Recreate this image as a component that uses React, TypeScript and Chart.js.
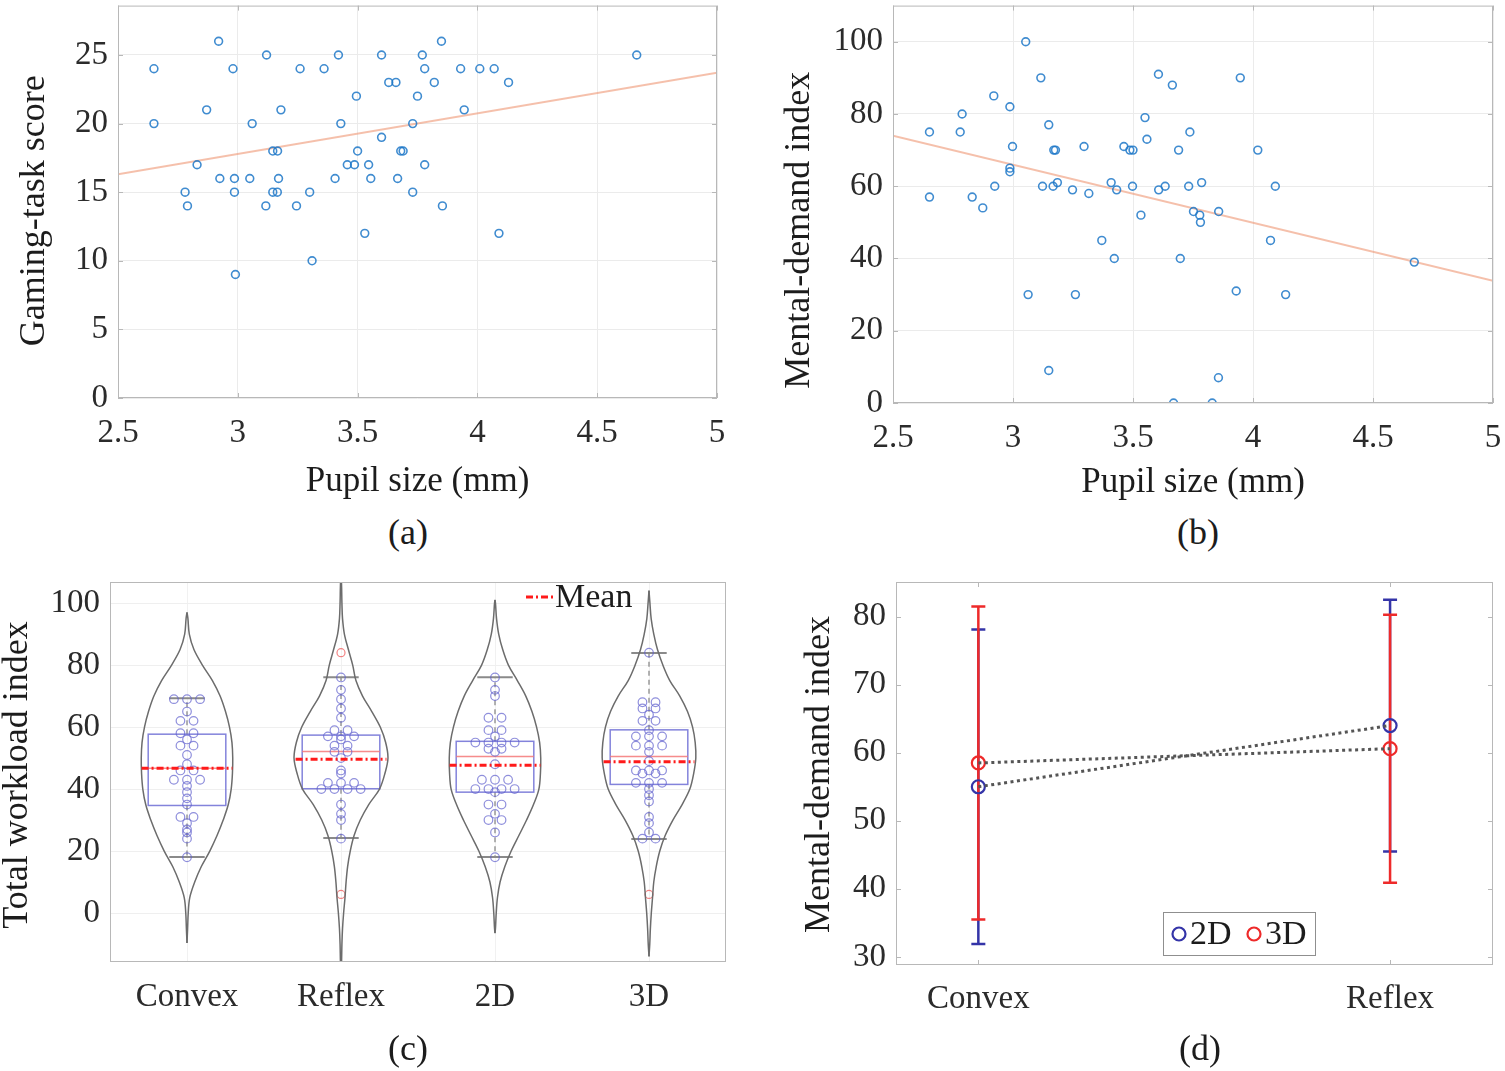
import React, { useEffect, useRef } from 'react';
import { Chart, registerables } from 'chart.js';
Chart.register(...registerables);

const SERIF = "'Liberation Serif', 'Times New Roman', serif";
const TICK_COLOR = '#2b2b2b';
const TITLE_COLOR = '#1c1c1c';
const GRID = '#ebebeb';

// ---------- Panel (a) ----------
const PUPIL_A = [2.65, 2.65, 2.92, 3.12, 2.98, 3.26, 3.36, 3.42, 3.60, 3.77, 3.85, 3.78, 3.93, 4.01, 4.07, 4.13, 4.665, 3.63, 3.66, 3.82, 3.495, 3.75, 2.87, 3.18, 3.945, 3.06, 3.43, 3.73, 3.60, 3.146, 3.166, 3.50, 3.68, 3.69, 2.83, 3.457, 3.487, 3.546, 3.78, 2.925, 2.986, 3.05, 3.17, 3.406, 3.555, 3.667, 2.78, 2.986, 3.146, 3.165, 3.30, 3.73, 2.79, 3.117, 3.245, 3.854, 3.53, 4.09, 3.31, 2.99];
const SCORE_A = [24, 20, 26, 25, 24, 24, 24, 25, 25, 25, 26, 24, 24, 24, 24, 23, 25, 23, 23, 23, 22, 22, 21, 21, 21, 20, 20, 20, 19, 18, 18, 18, 18, 18, 17, 17, 17, 17, 17, 16, 16, 16, 16, 16, 16, 16, 15, 15, 15, 15, 15, 15, 14, 14, 14, 14, 12, 12, 10, 9];
const FIT_A_X = [2.5, 5];
const FIT_A_Y = [16.3, 23.7];
const PUPIL_TICKS = [2.5, 3, 3.5, 4, 4.5, 5];
const SCORE_TICKS = [0, 5, 10, 15, 20, 25];

// ---------- Panel (b) ----------
const PUPIL_B = [3.053, 3.116, 3.606, 3.664, 3.947, 2.92, 2.987, 2.788, 3.55, 2.652, 2.78, 3.149, 3.737, 3.558, 2.998, 3.296, 3.462, 3.17, 3.177, 3.487, 3.50, 3.69, 4.02, 2.987, 2.987, 2.924, 3.123, 3.167, 3.185, 3.409, 3.498, 3.634, 3.732, 3.786, 4.093, 3.248, 3.316, 3.432, 3.607, 2.652, 2.83, 2.874, 3.533, 3.752, 3.778, 3.781, 3.857, 3.37, 4.073, 3.422, 3.697, 4.672, 3.063, 3.26, 3.93, 4.136, 3.149, 3.856, 3.669, 3.83];
const MD_B = [100, 90, 91, 88, 90, 85, 82, 80, 79, 75, 75, 77, 75, 73, 71, 71, 71, 70, 70, 70, 70, 70, 70, 65, 64, 60, 60, 60, 61, 61, 60, 60, 60, 61, 60, 59, 58, 59, 59, 57, 57, 54, 52, 53, 52, 50, 53, 45, 45, 40, 40, 39, 30, 30, 31, 30, 9, 7, 0, 0];
const FIT_B_X = [2.5, 5];
const FIT_B_Y = [74, 33.8];
const MD_TICKS = [0, 20, 40, 60, 80, 100];

// ---------- Panel (c) ----------
const GROUPS = ['Convex', 'Reflex', '2D', '3D'];
const WORKLOAD_TICKS = [0, 20, 40, 60, 80, 100];
const CONVEX_PTS = [69, 69, 69, 65, 62, 62, 58, 58, 56, 54, 54, 51, 48, 46, 46, 43, 43, 43, 41, 39, 37, 35, 31, 31, 29, 27, 26, 24, 18];
const REFLEX_PTS = [76, 72, 69, 66, 63, 59, 59, 57, 57, 57, 56, 54, 54, 52, 52, 50, 46, 45, 42, 42, 42, 40, 40, 40, 40, 35, 32, 30, 24];
const TWO_D_PTS = [76, 72, 70, 63, 63, 59, 59, 57, 55, 55, 55, 55, 53, 53, 52, 48, 43, 43, 43, 40, 40, 40, 40, 39, 35, 35, 32, 30, 30, 26, 18];
const THREE_D_PTS = [84, 68, 68, 66, 66, 64, 62, 62, 59, 57, 57, 57, 54, 54, 54, 52, 49, 46, 46, 46, 45, 45, 42, 42, 42, 40, 38, 36, 31, 29, 26, 24, 24];
const GROUP_PTS = [CONVEX_PTS, REFLEX_PTS, TWO_D_PTS, THREE_D_PTS];
const OUTLIERS = [[], [84, 6], [], [6]];
const Q1 = [34.7, 40.1, 39.0, 41.5];
const Q3 = [57.7, 57.4, 55.4, 59.1];
const MEDIAN = [46.7, 52.1, 50.5, 50.5];
const MEAN = [46.7, 49.6, 47.7, 48.8];
const WHISKER_LOW = [18.1, 24.2, 18.1, 23.9];
const WHISKER_HIGH = [69.3, 76.1, 76.1, 83.9];
const VIOLIN_LEVELS = [105, 100, 95, 90, 85, 80, 75, 70, 65, 60, 55, 50, 45, 40, 35, 30, 25, 20, 15, 10, 5, 0, -5, -10, -15];
const CONVEX_WIDTH = [null, null, 0.006, 0.015, 0.045, 0.10, 0.165, 0.215, 0.25, 0.276, 0.292, 0.297, 0.295, 0.287, 0.268, 0.235, 0.195, 0.148, 0.093, 0.05, 0.018, 0.008, 0.004, null, null];
const REFLEX_WIDTH = [0.004, 0.006, 0.01, 0.022, 0.048, 0.076, 0.097, 0.14, 0.2, 0.255, 0.29, 0.305, 0.285, 0.25, 0.18, 0.125, 0.085, 0.06, 0.043, 0.033, 0.026, 0.017, 0.01, 0.006, 0.004];
const TWO_D_WIDTH = [null, 0.003, 0.01, 0.024, 0.05, 0.087, 0.145, 0.2, 0.24, 0.27, 0.29, 0.297, 0.295, 0.285, 0.25, 0.205, 0.155, 0.105, 0.064, 0.033, 0.016, 0.008, 0.003, null, null];
const THREE_D_WIDTH = [null, 0.006, 0.014, 0.031, 0.055, 0.09, 0.135, 0.2, 0.25, 0.283, 0.3, 0.304, 0.29, 0.265, 0.215, 0.155, 0.105, 0.07, 0.047, 0.031, 0.023, 0.015, 0.009, 0.005, null];
const VIOLIN_WIDTHS = [CONVEX_WIDTH, REFLEX_WIDTH, TWO_D_WIDTH, THREE_D_WIDTH];
const VIOLIN_TOP = [97, 112, 101, 104];
const VIOLIN_BOTTOM = [-9.7, -22, -6.5, -14];

// ---------- Panel (d) ----------
const CONDITIONS = ['Convex', 'Reflex'];
const MEAN_2D = [55.0, 64.0];
const SD_2D = [23.1, 18.5];
const MEAN_3D = [58.5, 60.6];
const SD_3D = [23.0, 19.7];
const MD_D_TICKS = [30, 40, 50, 60, 70, 80];

// ---------- style constants ----------
const BOX_HALF = 0.252;
const MEAN_HALF = 0.295;
const CAP_HALF = 0.115;
const SWARM_STEP = 0.085;

function swarm(values: number[], cx: number) {
  const counts: Record<string, number> = {};
  values.forEach((v) => (counts[v] = (counts[v] || 0) + 1));
  const seen: Record<string, number> = {};
  return values.map((v) => {
    const n = counts[v];
    const i = (seen[v] = (seen[v] ?? -1) + 1);
    return { x: cx + (i - (n - 1) / 2) * SWARM_STEP, y: v };
  });
}

function axis(o: any) {
  return {
    type: 'linear',
    min: o.min,
    max: o.max,
    afterBuildTicks: (s: any) => {
      s.ticks = o.ticks.map((v: number) => ({ value: v }));
    },
    afterFit: (s: any) => {
      if (o.horizontal) s.height = o.size;
      else s.width = o.size;
      s.paddingTop = 0;
      s.paddingBottom = 0;
      s.paddingLeft = 0;
      s.paddingRight = 0;
    },
    grid: { display: o.grid, color: o.gridColor || GRID, lineWidth: 1, drawTicks: false },
    border: { display: false },
    ticks: {
      padding: o.tickPad,
      color: TICK_COLOR,
      font: { family: SERIF, size: 33, lineHeight: 1 },
      maxRotation: 0,
      autoSkip: false,
      callback: (v: any, i: number) => (o.labels ? o.labels[i] : String(v)),
    },
    title: o.title
      ? {
          display: true,
          text: o.title,
          color: TITLE_COLOR,
          font: { family: SERIF, size: 35, lineHeight: 1 },
          padding: { top: 0, bottom: o.titlePad },
        }
      : { display: false },
  };
}

// vertical axis title, centred at (x, chart-area centre + shift)
function makeYTitle(text: string, x: number, shift: number) {
  return {
    id: 'yTitle',
    afterDraw(chart: any) {
      const { ctx, chartArea: a } = chart;
      ctx.save();
      ctx.translate(x, (a.top + a.bottom) / 2 + shift);
      ctx.rotate(-Math.PI / 2);
      ctx.fillStyle = TITLE_COLOR;
      ctx.font = `36px ${SERIF}`;
      ctx.textAlign = 'center';
      ctx.textBaseline = 'middle';
      ctx.fillText(text, 0, 0);
      ctx.restore();
    },
  };
}

function makeFrame(color: string, tickLen: number) {
  return {
    id: 'frame',
    afterDraw(chart: any) {
      const { ctx, chartArea: a, scales } = chart;
      ctx.save();
      ctx.strokeStyle = color;
      ctx.lineWidth = 1;
      ctx.strokeRect(a.left + 0.5, a.top + 0.5, a.right - a.left - 1, a.bottom - a.top - 1);
      if (tickLen > 0) {
        ctx.beginPath();
        scales.x.ticks.forEach((t: any) => {
          const p = Math.round(scales.x.getPixelForValue(t.value)) + 0.5;
          ctx.moveTo(p, a.bottom);
          ctx.lineTo(p, a.bottom - tickLen);
          ctx.moveTo(p, a.top);
          ctx.lineTo(p, a.top + tickLen);
        });
        scales.y.ticks.forEach((t: any) => {
          const p = Math.round(scales.y.getPixelForValue(t.value)) + 0.5;
          ctx.moveTo(a.left, p);
          ctx.lineTo(a.left + tickLen, p);
          ctx.moveTo(a.right, p);
          ctx.lineTo(a.right - tickLen, p);
        });
        ctx.stroke();
      }
      ctx.restore();
    },
  };
}

function baseOptions(padding: any) {
  return {
    responsive: false,
    animation: false,
    events: [],
    layout: { padding },
    plugins: { legend: { display: false }, tooltip: { enabled: false } },
  };
}

function scatterConfig(px: number[], py: number[], fx: number[], fy: number[], yMax: number, yTicks: number[], yTitle: string, dims: any) {
  return {
    type: 'scatter',
    data: {
      datasets: [
        {
          data: px.map((x, i) => ({ x, y: py[i] })),
          pointStyle: 'circle',
          pointRadius: 3.9,
          borderWidth: 1.6,
          borderColor: 'rgba(30,120,200,0.85)',
          backgroundColor: 'rgba(0,0,0,0)',
        },
        {
          data: fx.map((x, i) => ({ x, y: fy[i] })),
          showLine: true,
          pointRadius: 0,
          borderColor: 'rgba(238,150,115,0.6)',
          borderWidth: 2,
        },
      ],
    },
    options: {
      ...baseOptions({ top: dims.top, right: dims.right, left: 0, bottom: 0 }),
      scales: {
        x: axis({ min: 2.5, max: 5, ticks: PUPIL_TICKS, horizontal: true, size: dims.xh, grid: true, title: 'Pupil size (mm)', titlePad: dims.xTitlePad, tickPad: 19 }),
        y: axis({ min: 0, max: yMax, ticks: yTicks, horizontal: false, size: dims.yw, grid: true, tickPad: 10 }),
      },
    },
    plugins: [makeFrame('#b8b8b8', 5), makeYTitle(yTitle, dims.yTitleX, dims.yTitleShift)],
  };
}

function violinConfig() {
  const datasets: any[] = [];
  GROUPS.forEach((_, g) => {
    const cx = g + 1;
    const widths = VIOLIN_WIDTHS[g];
    [1, -1].forEach((side) => {
      const pts: any[] = [{ x: cx, y: VIOLIN_TOP[g] }];
      VIOLIN_LEVELS.forEach((lv, k) => {
        const w = widths[k];
        if (w !== null && lv < VIOLIN_TOP[g] && lv > VIOLIN_BOTTOM[g]) pts.push({ x: cx + side * (w as number), y: lv });
      });
      pts.push({ x: cx, y: VIOLIN_BOTTOM[g] });
      datasets.push({
        data: pts,
        showLine: true,
        tension: 0.35,
        pointRadius: 0,
        borderColor: '#6c6c6c',
        borderWidth: 1.5,
      });
    });
  });
  const dots: any[] = [];
  GROUP_PTS.forEach((vals, g) => dots.push(...swarm(vals, g + 1)));
  datasets.push({
    data: dots,
    pointStyle: 'circle',
    pointRadius: 4.3,
    borderWidth: 1.2,
    borderColor: 'rgba(95,95,205,0.7)',
    backgroundColor: 'rgba(0,0,0,0)',
  });
  const outs: any[] = [];
  OUTLIERS.forEach((vals, g) => vals.forEach((v) => outs.push({ x: g + 1, y: v })));
  datasets.push({
    data: outs,
    pointStyle: 'circle',
    pointRadius: 4,
    borderWidth: 1.2,
    borderColor: 'rgba(240,100,100,0.8)',
    backgroundColor: 'rgba(0,0,0,0)',
  });

  const extras = {
    id: 'violinExtras',
    beforeDatasetsDraw(chart: any) {
      const { ctx, scales } = chart;
      const X = (v: number) => scales.x.getPixelForValue(v);
      const Y = (v: number) => scales.y.getPixelForValue(v);
      ctx.save();
      GROUPS.forEach((_, g) => {
        const cx = g + 1;
        ctx.strokeStyle = '#8a8a8a';
        ctx.lineWidth = 1.3;
        ctx.setLineDash([5, 4]);
        ctx.beginPath();
        ctx.moveTo(X(cx), Y(Q3[g]));
        ctx.lineTo(X(cx), Y(WHISKER_HIGH[g]));
        ctx.moveTo(X(cx), Y(Q1[g]));
        ctx.lineTo(X(cx), Y(WHISKER_LOW[g]));
        ctx.stroke();
        ctx.setLineDash([]);
        ctx.lineWidth = 2;
        ctx.beginPath();
        [WHISKER_HIGH[g], WHISKER_LOW[g]].forEach((w) => {
          ctx.moveTo(X(cx - CAP_HALF), Y(w));
          ctx.lineTo(X(cx + CAP_HALF), Y(w));
        });
        ctx.stroke();
        ctx.strokeStyle = 'rgba(100,100,210,0.8)';
        ctx.lineWidth = 1.5;
        ctx.strokeRect(X(cx - BOX_HALF), Y(Q3[g]), X(cx + BOX_HALF) - X(cx - BOX_HALF), Y(Q1[g]) - Y(Q3[g]));
        ctx.strokeStyle = 'rgba(245,120,120,0.85)';
        ctx.lineWidth = 1.5;
        ctx.beginPath();
        ctx.moveTo(X(cx - BOX_HALF), Y(MEDIAN[g]));
        ctx.lineTo(X(cx + BOX_HALF), Y(MEDIAN[g]));
        ctx.stroke();
      });
      ctx.restore();
    },
    afterDatasetsDraw(chart: any) {
      const { ctx, scales, chartArea: a } = chart;
      const X = (v: number) => scales.x.getPixelForValue(v);
      const Y = (v: number) => scales.y.getPixelForValue(v);
      ctx.save();
      ctx.strokeStyle = '#ff1a1a';
      ctx.lineWidth = 3;
      ctx.setLineDash([7, 3, 2, 3]);
      GROUPS.forEach((_, g) => {
        ctx.beginPath();
        ctx.moveTo(X(g + 1 - MEAN_HALF), Y(MEAN[g]));
        ctx.lineTo(X(g + 1 + MEAN_HALF), Y(MEAN[g]));
        ctx.stroke();
      });
      const ly = a.top + 15;
      ctx.beginPath();
      ctx.moveTo(a.left + 416, ly);
      ctx.lineTo(a.left + 444, ly);
      ctx.stroke();
      ctx.setLineDash([]);
      ctx.fillStyle = TITLE_COLOR;
      ctx.font = `34px ${SERIF}`;
      ctx.textBaseline = 'middle';
      ctx.textAlign = 'left';
      ctx.fillText('Mean', a.left + 445, ly + 1);
      ctx.restore();
    },
  };

  return {
    type: 'scatter',
    data: { datasets },
    options: {
      ...baseOptions({ top: 22, right: 19, left: 0, bottom: 0 }),
      scales: {
        x: axis({ min: 0.5, max: 4.5, ticks: [1, 2, 3, 4], labels: GROUPS, horizontal: true, size: 68, grid: true, gridColor: '#f1f1f1', tickPad: 19 }),
        y: axis({ min: -15.8, max: 106.8, ticks: WORKLOAD_TICKS, horizontal: false, size: 110, grid: true, gridColor: '#efefef', tickPad: 10 }),
      },
    },
    plugins: [extras, makeFrame('#b8b8b8', 0), makeYTitle('Total workload index', 18, 3)],
  };
}

function errorConfig() {
  const BLUE = '#3434a8';
  const RED = '#ee2a2a';
  const xs = CONDITIONS.map((_, i) => i + 1);
  const errPlugin = {
    id: 'errorBars',
    beforeDatasetsDraw(chart: any) {
      const { ctx, scales } = chart;
      const X = (v: number) => scales.x.getPixelForValue(v);
      const Y = (v: number) => scales.y.getPixelForValue(v);
      ctx.save();
      ctx.lineWidth = 2.5;
      [
        [MEAN_2D, SD_2D, BLUE],
        [MEAN_3D, SD_3D, RED],
      ].forEach(([m, s, c]: any) => {
        ctx.strokeStyle = c;
        ctx.beginPath();
        xs.forEach((x, i) => {
          const px = X(x);
          const lo = Y(m[i] - s[i]);
          const hi = Y(m[i] + s[i]);
          ctx.moveTo(px, lo);
          ctx.lineTo(px, hi);
          ctx.moveTo(px - 7, lo);
          ctx.lineTo(px + 7, lo);
          ctx.moveTo(px - 7, hi);
          ctx.lineTo(px + 7, hi);
        });
        ctx.stroke();
      });
      ctx.restore();
    },
    afterDraw(chart: any) {
      const { ctx, chartArea: a } = chart;
      ctx.save();
      const bx = a.left + 267;
      const by = a.bottom - 53;
      ctx.fillStyle = '#ffffff';
      ctx.fillRect(bx, by, 153, 44);
      ctx.strokeStyle = '#8f8f8f';
      ctx.lineWidth = 1;
      ctx.strokeRect(bx + 0.5, by + 0.5, 152, 43);
      const cy = by + 22;
      ctx.lineWidth = 2.2;
      ctx.strokeStyle = BLUE;
      ctx.beginPath();
      ctx.arc(bx + 16, cy, 6.5, 0, Math.PI * 2);
      ctx.stroke();
      ctx.strokeStyle = RED;
      ctx.beginPath();
      ctx.arc(bx + 91, cy, 6.5, 0, Math.PI * 2);
      ctx.stroke();
      ctx.fillStyle = TITLE_COLOR;
      ctx.font = `34px ${SERIF}`;
      ctx.textBaseline = 'middle';
      ctx.textAlign = 'left';
      ctx.fillText('2D', bx + 27, cy + 1);
      ctx.fillText('3D', bx + 102, cy + 1);
      ctx.restore();
    },
  };
  const lineDs = (m: number[]) => ({
    data: xs.map((x, i) => ({ x, y: m[i] })),
    showLine: true,
    pointRadius: 0,
    borderColor: '#555555',
    borderWidth: 3,
    borderDash: [3, 3.5],
  });
  const markDs = (m: number[], c: string) => ({
    data: xs.map((x, i) => ({ x, y: m[i] })),
    pointStyle: 'circle',
    pointRadius: 6.5,
    borderWidth: 2.2,
    borderColor: c,
    backgroundColor: 'rgba(0,0,0,0)',
  });
  return {
    type: 'scatter',
    data: { datasets: [lineDs(MEAN_2D), lineDs(MEAN_3D), markDs(MEAN_2D, BLUE), markDs(MEAN_3D, RED)] },
    options: {
      ...baseOptions({ top: 22, right: 12, left: 0, bottom: 0 }),
      scales: {
        x: axis({ min: 0.8, max: 2.25, ticks: xs, labels: CONDITIONS, horizontal: true, size: 65, grid: false, tickPad: 18 }),
        y: axis({ min: 28.8, max: 85.1, ticks: MD_D_TICKS, horizontal: false, size: 144, grid: false, tickPad: 10 }),
      },
    },
    plugins: [errPlugin, makeFrame('#b8b8b8', 5), makeYTitle('Mental-demand index', 68, 1)],
  };
}

function ChartBox({ left, top, width, height, make }: any) {
  const ref = useRef<HTMLCanvasElement>(null);
  useEffect(() => {
    const chart = new Chart(ref.current as HTMLCanvasElement, make());
    return () => chart.destroy();
  }, []);
  return <canvas ref={ref} width={width} height={height} style={{ position: 'absolute', left, top, width, height }} />;
}

function Label({ x, y, text }: any) {
  return (
    <div
      style={{
        position: 'absolute',
        left: x,
        top: y,
        transform: 'translate(-50%, -50%)',
        fontFamily: SERIF,
        fontSize: 36,
        lineHeight: 1,
        color: TITLE_COLOR,
        whiteSpace: 'nowrap',
      }}
    >
      {text}
    </div>
  );
}

export default function App() {
  return (
    <div style={{ position: 'absolute', left: 0, top: 0, width: 1505, height: 1071, background: '#ffffff', overflow: 'hidden' }}>
      <ChartBox
        left={0}
        top={0}
        width={745}
        height={510}
        make={() => scatterConfig(PUPIL_A, SCORE_A, FIT_A_X, FIT_A_Y, 28.6, SCORE_TICKS, 'Gaming-task score', { top: 5, right: 28, xh: 112, yw: 118, xTitlePad: 11, yTitleX: 35, yTitleShift: 9 })}
      />
      <ChartBox
        left={752}
        top={0}
        width={753}
        height={510}
        make={() => scatterConfig(PUPIL_B, MD_B, FIT_B_X, FIT_B_Y, 110, MD_TICKS, 'Mental-demand index', { top: 5, right: 12, xh: 107, yw: 141, xTitlePad: 10, yTitleX: 48, yTitleShift: 26 })}
      />
      <ChartBox left={0} top={560} width={745} height={470} make={violinConfig} />
      <ChartBox left={752} top={560} width={753} height={470} make={errorConfig} />
      <Label x={408} y={532} text="(a)" />
      <Label x={1198} y={532} text="(b)" />
      <Label x={408} y={1048} text="(c)" />
      <Label x={1200} y={1048} text="(d)" />
    </div>
  );
}
